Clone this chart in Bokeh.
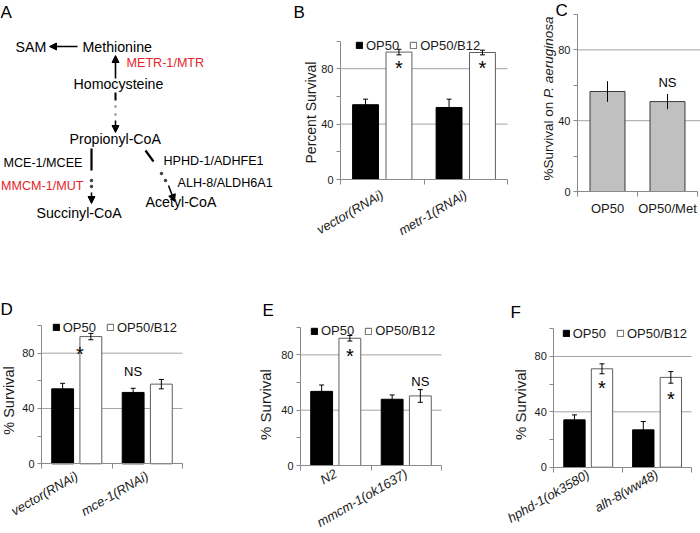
import math
import numpy as np
from bokeh.plotting import figure
from bokeh.layouts import row, column
from bokeh.models import (ColumnDataSource, Range1d, FixedTicker, Whisker, TeeHead,
                          Legend, LegendItem, Arrow, NormalHead)
from bokeh.core.properties import value
from bokeh.embed import file_html
from bokeh.resources import INLINE

FONT = "Liberation Sans"
RED = "#e5252b"
GRID = "#a3a3a3"
AXIS = "#8a8a8a"
TXT = "#1a1a1a"

# ---------------- data ----------------
series_names = ["OP50", "OP50/B12"]
y_ticks = [0, 40, 80]
y_minor = [20, 60, 100]

b_groups = ["vector(RNAi)", "metr-1(RNAi)"]
b_op50 = [54.0, 52.0]
b_op50_err = [4.0, 6.0]
b_b12 = [92.0, 91.7]
b_b12_err = [2.0, 1.7]

c_groups = ["OP50", "OP50/Met"]
c_survival = [56.5, 50.8]
c_err = [5.5, 4.0]

d_groups = ["vector(RNAi)", "mce-1(RNAi)"]
d_op50 = [54.2, 51.6]
d_op50_err = [4.0, 3.0]
d_b12 = [92.0, 57.6]
d_b12_err = [2.3, 3.4]

e_groups = ["N2", "mmcm-1(ok1637)"]
e_op50 = [53.6, 47.9]
e_op50_err = [4.6, 3.1]
e_b12 = [92.0, 50.3]
e_b12_err = [2.0, 4.6]

f_groups = ["hphd-1(ok3580)", "alh-8(ww48)"]
f_op50 = [34.2, 27.0]
f_op50_err = [3.6, 6.0]
f_b12 = [71.1, 64.9]
f_b12_err = [3.6, 4.2]

# pathway diagram (panel A)
a_metabolites = ["SAM", "Methionine", "Homocysteine", "Propionyl-CoA", "Succinyl-CoA", "Acetyl-CoA"]
a_enzymes = ["METR-1/MTR", "MCE-1/MCEE", "MMCM-1/MUT", "HPHD-1/ADHFE1", "ALH-8/ALDH6A1"]
a_enzyme_red = [True, False, True, False, False]


# ---------------- helpers ----------------
class Panel:
    """A figure whose frame fills its whole canvas; the plot area (categories 0..n,
    values 0..100) is placed at the given page position through the ranges."""

    def __init__(self, FX0, FX1, FY0, FY1, x0, x1, ncat, y0, y1):
        self.FX0, self.FY1 = FX0, FY1
        self.x0, self.y1 = x0, y1
        self.sx = (x1 - x0) / ncat
        self.sy = (y1 - y0) / 100.0
        self.n = ncat
        xr = Range1d(-(x0 - FX0) / self.sx, ncat + (FX1 - x1) / self.sx)
        yr = Range1d(-(FY1 - y1) / self.sy, 100 + (y0 - FY0) / self.sy)
        self.xend = xr.end
        p = figure(width=FX1 - FX0, height=FY1 - FY0, output_backend="svg",
                   toolbar_location=None, x_range=xr, y_range=yr, min_border=0)
        if "frame_align" in p.properties():
            p.frame_align = False
        p.outline_line_color = None
        p.background_fill_color = "white"
        p.grid.visible = False
        self.p = p

    def cx(self, px):
        return (px - self.x0) / self.sx

    def cy(self, py):
        return (self.y1 - py) / self.sy


def style_axes(pn, groups, xlabel_px, orient, standoff, grid_to_edge=False):
    p = pn.p
    n = len(groups)
    xmax = min(n, pn.xend)
    gx = pn.xend if grid_to_edge else xmax
    gy = [t for t in y_ticks if t > 0]
    p.segment(x0=[0] * len(gy), x1=[gx] * len(gy), y0=gy, y1=gy,
              line_color=GRID, line_width=1, level="underlay")

    ya = p.yaxis[0]
    ya.fixed_location = 0
    ya.bounds = (0, 100)
    ya.ticker = FixedTicker(ticks=y_ticks, minor_ticks=y_minor)
    ya.axis_line_color = AXIS
    ya.major_tick_line_color = AXIS
    ya.minor_tick_line_color = AXIS
    ya.major_tick_out = 4
    ya.major_tick_in = 0
    ya.minor_tick_out = 4
    ya.minor_tick_in = 0
    ya.major_label_text_font = FONT
    ya.major_label_text_font_size = "11px"
    ya.major_label_text_color = TXT
    ya.major_label_standoff = 3

    xa = p.xaxis[0]
    xa.fixed_location = 0
    xa.bounds = (0, xmax)
    centers = [i + 0.5 for i in range(n)]
    xa.ticker = FixedTicker(ticks=centers, minor_ticks=list(range(n + 1)))
    xa.major_label_overrides = {c: g for c, g in zip(centers, groups)}
    xa.axis_line_color = AXIS
    xa.major_tick_out = 0
    xa.major_tick_in = 0
    xa.minor_tick_out = 5
    xa.minor_tick_in = 0
    xa.minor_tick_line_color = AXIS
    xa.major_label_text_font = FONT
    xa.major_label_text_font_size = xlabel_px
    xa.major_label_text_color = TXT
    xa.major_label_standoff = standoff
    if orient == "horizontal":
        xa.major_label_orientation = "horizontal"
    else:
        xa.major_label_text_font_style = "italic"
        xa.major_label_orientation = orient


def add_ylabel(pn, text, px, py, size):
    pn.p.text(x=[pn.cx(px)], y=[pn.cy(py)], text=[text], angle=math.pi / 2,
              text_font=value(FONT), text_font_size=size, text_align="center",
              text_baseline="middle", text_color=TXT)


def add_letter(pn, letter, px, py):
    pn.p.text(x=[pn.cx(px)], y=[pn.cy(py)], text=[letter], text_font=value(FONT),
              text_font_size="17px", text_align="left", text_baseline="top",
              text_color="black")


def add_marks(pn, xs, ys, texts, font_px, lift_em):
    # ys: visual centre of the mark (data units)
    base = [y - lift_em * font_px / pn.sy for y in ys]
    pn.p.text(x=xs, y=base, text=texts, text_font=value(FONT),
              text_font_size=f"{font_px}px", text_align="center",
              text_baseline="middle", text_color="black")


def paired_panel(groups, op50, op50_err, b12, b12_err, geom, legend_px, xlabel_px, standoff):
    pn = Panel(*geom)
    p = pn.p
    n = len(groups)
    style_axes(pn, groups, xlabel_px, math.pi / 6, standoff)
    idx = np.arange(n) + 0.5
    src = ColumnDataSource(dict(
        x1=idx - 0.2, x2=idx + 0.2,
        op=op50, op_hi=[v + e for v, e in zip(op50, op50_err)],
        op_lo=[v - e for v, e in zip(op50, op50_err)],
        bb=b12, bb_hi=[v + e for v, e in zip(b12, b12_err)],
        bb_lo=[v - e for v, e in zip(b12, b12_err)],
    ))
    r1 = p.vbar(x="x1", top="op", width=0.31, bottom=0, source=src,
                fill_color="black", line_color="black", line_width=1)
    r2 = p.vbar(x="x2", top="bb", width=0.31, bottom=0, source=src,
                fill_color="white", line_color="#5f5f5f", line_width=1)
    for base, up, lo in (("x1", "op_hi", "op_lo"), ("x2", "bb_hi", "bb_lo")):
        p.add_layout(Whisker(source=src, base=base, upper=up, lower=lo, dimension="height",
                             line_color="black", line_width=1, level="overlay",
                             upper_head=TeeHead(size=5, line_color="black", line_width=1),
                             lower_head=TeeHead(size=5, line_color="black", line_width=1)))
    lx, lb = legend_px
    leg = Legend(items=[LegendItem(label=series_names[0], renderers=[r1]),
                        LegendItem(label=series_names[1], renderers=[r2])],
                 orientation="horizontal",
                 location=(lx - pn.FX0, pn.FY1 - lb),
                 glyph_width=8, glyph_height=8, label_standoff=3, spacing=10,
                 padding=0, margin=0, border_line_color=None,
                 background_fill_alpha=0, label_text_font=FONT,
                 label_text_font_size="13px", label_height=12,
                 label_text_color=TXT)
    p.add_layout(leg, "center")
    return pn


# ---------------- panel A : pathway ----------------
pa = figure(width=280, height=248, output_backend="svg", toolbar_location=None,
            x_range=Range1d(0, 280), y_range=Range1d(248, 0),
            x_axis_location=None, y_axis_location=None, min_border=0)
if "frame_align" in pa.properties():
    pa.frame_align = False
pa.outline_line_color = None
pa.grid.visible = False

met_x = [15, 82, 73, 69, 36, 145]
met_y = [46, 46, 83, 138, 212, 201]
pa.text(x=met_x, y=met_y, text=a_metabolites, text_font=value(FONT),
        text_font_size="14.2px", text_align="left", text_baseline="middle",
        text_color="black")
enz_x = [126, 82, 83, 163, 177]
enz_y = [62, 162, 185, 160, 182]
enz_align = ["left", "right", "right", "left", "left"]
enz_col = [RED if r else "black" for r in a_enzyme_red]
pa.text(x=enz_x, y=enz_y, text=a_enzymes, text_font=value(FONT),
        text_font_size="12.6px", text_align=enz_align, text_baseline="middle",
        text_color=enz_col)


def arrow(x0, y0, x1, y1, w=1.6):
    pa.add_layout(Arrow(x_start=x0, y_start=y0, x_end=x1, y_end=y1, line_width=w,
                        line_color="black",
                        end=NormalHead(size=7, fill_color="black", line_color="black")))


arrow(77, 46, 49, 46)                       # Methionine -> SAM
arrow(115, 78, 115, 55)                     # Homocysteine -> Methionine
pa.segment(x0=[115], y0=[92], x1=[115], y1=[100], line_width=2, line_color="black")
pa.scatter(x=[115, 115], y=[106, 114], size=2, color="#a0a0a0")
arrow(115, 120, 115, 132)                   # -> Propionyl-CoA
pa.segment(x0=[91], y0=[148], x1=[91], y1=[170], line_width=2.2, line_color="black")
pa.scatter(x=[91, 91], y=[180, 186], size=2.5, color="#333333")
arrow(91, 192, 91, 203)                     # -> Succinyl-CoA
pa.segment(x0=[145], y0=[150], x1=[153], y1=[161], line_width=2.2, line_color="black")
pa.scatter(x=[161, 165], y=[173, 180], size=2.5, color="#333333")
arrow(168, 185, 174, 201)                   # -> Acetyl-CoA
pa.text(x=[0], y=[2], text=["A"], text_font=value(FONT), text_font_size="17px",
        text_align="left", text_baseline="top", text_color="black")

# ---------------- panel B ----------------
pbn = paired_panel(b_groups, b_op50, b_op50_err, b_b12, b_b12_err,
                   geom=(280, 530, 0, 248, 340, 507, 2, 40.5, 179),
                   legend_px=(355, 52.5), xlabel_px="13px", standoff=9)
add_marks(pbn, [0.7, 1.7], [b - 8.5 for b in b_b12], ["*", "*"], 20, 0.2)
add_ylabel(pbn, "Percent Survival", 310, 112, "14px")
add_letter(pbn, "B", 293, 2)

# ---------------- panel C ----------------
pcn = Panel(530, 700, 0, 248, 577, 697, 2, 14, 191)
pc = pcn.p
style_axes(pcn, c_groups, "13px", "horizontal", 4, grid_to_edge=True)
c_src = ColumnDataSource(dict(x=[i + 0.5 for i in range(len(c_groups))], v=c_survival,
                              hi=[v + e for v, e in zip(c_survival, c_err)],
                              lo=[v - e for v, e in zip(c_survival, c_err)]))
pc.vbar(x="x", top="v", width=0.583, bottom=0, source=c_src,
        fill_color="#c0c0c0", line_color="#3a3a3a", line_width=1)
pc.add_layout(Whisker(source=c_src, base="x", upper="hi", lower="lo", dimension="height",
                      line_color="black", line_width=1, level="overlay",
                      upper_head=TeeHead(size=1, line_color="black", line_width=1),
                      lower_head=TeeHead(size=1, line_color="black", line_width=1)))
add_marks(pcn, [1.5], [c_survival[1] + c_err[1] + 6.8], ["NS"], 13, 0.0)
pc.text(x=[pcn.cx(548)], y=[pcn.cy(180)], text=["%Survival on"], angle=math.pi / 2,
        text_font=value(FONT), text_font_size="13.5px", text_align="left",
        text_baseline="middle", text_color=TXT)
pc.text(x=[pcn.cx(548)], y=[pcn.cy(180 - 82.5)], text=["P. aeruginosa"], angle=math.pi / 2,
        text_font=value(FONT), text_font_size="13.5px", text_font_style="italic",
        text_align="left", text_baseline="middle", text_color=TXT)
add_letter(pcn, "C", 555, 0)

# ---------------- panel D ----------------
pdn = paired_panel(d_groups, d_op50, d_op50_err, d_b12, d_b12_err,
                   geom=(0, 248, 248, 533, 41, 182, 2, 325, 463.3),
                   legend_px=(51.7, 334.8), xlabel_px="13px", standoff=6)
add_marks(pdn, [0.545], [d_b12[0] - 10], ["*"], 20, 0.2)
add_marks(pdn, [1.3], [d_b12[1] + d_b12_err[1] + 6], ["NS"], 13, 0.0)
add_ylabel(pdn, "% Survival", 8, 400, "14.5px")
add_letter(pdn, "D", 0, 299)

# ---------------- panel E ----------------
pen = paired_panel(e_groups, e_op50, e_op50_err, e_b12, e_b12_err,
                   geom=(248, 503, 248, 533, 300, 441, 2, 326.7, 465),
                   legend_px=(310, 338), xlabel_px="13px", standoff=2)
add_marks(pen, [0.7], [e_b12[0] - 10], ["*"], 20, 0.2)
add_marks(pen, [1.7], [e_b12[1] + e_b12_err[1] + 5.7], ["NS"], 13, 0.0)
add_ylabel(pen, "% Survival", 265, 404, "15px")
add_letter(pen, "E", 262, 300)

# ---------------- panel F ----------------
pfn = paired_panel(f_groups, f_op50, f_op50_err, f_b12, f_b12_err,
                   geom=(503, 700, 248, 533, 553.3, 691, 2, 328.3, 466.7),
                   legend_px=(561.7, 340.8), xlabel_px="13px", standoff=1)
add_marks(pfn, [0.7, 1.7], [f_b12[0] - 10.7, f_b12[1] - 13], ["*", "*"], 20, 0.2)
add_ylabel(pfn, "% Survival", 520, 404, "15px")
add_letter(pfn, "F", 510, 302)

layout = column(row(pa, pbn.p, pc), row(pdn.p, pen.p, pfn.p))
open("out.html", "w").write(file_html(layout, INLINE))
